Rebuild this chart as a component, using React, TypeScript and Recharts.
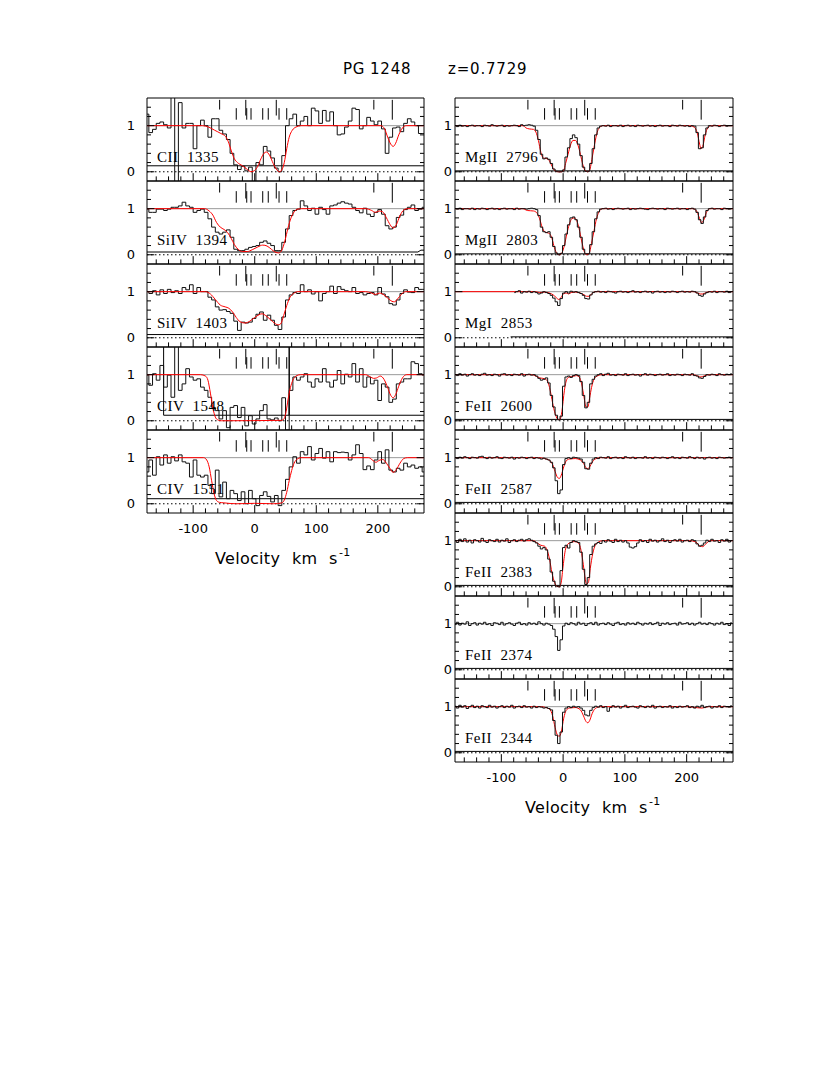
import React from 'react';
import { ComposedChart, Line, XAxis, YAxis, ReferenceLine, ReferenceArea } from 'recharts';

type Pt = [number, number];

const V_MIN = -175;
const V_MAX = 275;
const Y_MIN = -0.2;
const Y_MAX = 1.6;

// velocity grids (bin centres)
const LEFT_START = -175;
const LEFT_STEP = 6;
const RIGHT_START = -175;
const RIGHT_STEP = 4;
const MGI_START = -79;

const xTickLabels = [-100, 0, 100, 200];
const xMinorTicks = [-160, -140, -120, -80, -60, -40, -20, 20, 40, 60, 80, 120, 140, 160, 180, 220, 240, 260];
const xMajorTicks = [-100, 0, 100, 200];
const yTickLabels = [0, 1];
const yMinorTicks = [0.2, 0.4, 0.6, 0.8, 1.2, 1.4];
const yMajorTicks = [0, 1];

// component markers
const upperShortMarks = [-57, 193.5];
const upperLongMarks = [-14.5, 35];
const lowerMarks = [-30, -13, -6, 13, 22, 39.5, 52];
const fullMarks = [223.5];

// ---------- left column (6 km/s bins from -175) ----------
const cii1335Flux = [
  1.25, 0.85, 0.92, 1.05, 1.08, 1.02, 0.95, 1.75, -0.3, 1.5,
  0.95, 1.05, 1.05, 0.5, 1.0, 1.12, 1.0, 0.75, 1.15, 1.15,
  0.9, 0.82, 0.7, 0.4, 0.15, 0.05, 0.12, 0.02, 0.1, -0.25,
  0.2, 0.15, 0.55, 0.45, 0.3, 0.08, 0.0, 0.35, 1.0, 1.15,
  1.25, 1.0, 1.1, 1.2, 1.0, 1.38, 1.32, 1.05, 1.33, 1.1,
  1.3, 1.0, 0.8, 0.82, 0.97, 1.1, 1.38, 1.35, 0.93, 1.0,
  1.18, 1.1, 1.02, 1.1, 0.93, 0.4, 0.75, 0.95, 0.97, 0.87,
  1.05, 1.15, 1.08, 1.0, 0.83, 0.83,
];
const cii1335Model: Pt[] = [[-175, 1], [-85, 1], [-75, 0.97], [-65, 0.9], [-55, 0.83], [-47, 0.76], [-42, 0.62], [-38, 0.45], [-33, 0.28], [-28, 0.2], [-20, 0.13], [-12, 0.05], [-6, 0], [0, 0.03], [5, 0.12], [10, 0.28], [15, 0.4], [19, 0.43], [24, 0.36], [30, 0.18], [35, 0.06], [40, 0], [44, 0.04], [48, 0.2], [52, 0.5], [56, 0.75], [61, 0.9], [67, 0.97], [75, 1], [205, 1], [211, 0.93], [216, 0.75], [221, 0.6], [225, 0.55], [229, 0.62], [234, 0.8], [240, 0.95], [246, 1], [275, 1]];
const cii1335Err: Pt[] = [[-175, 0.13], [275, 0.13]];

const siiv1394Flux = [
  0.99, 0.92, 0.92, 0.99, 0.99, 0.96, 0.99, 1.03, 1.03, 1.06,
  1.14, 1.06, 1.03, 0.92, 0.96, 0.99, 0.92, 0.78, 0.6, 0.49,
  0.45, 0.49, 0.54, 0.38, 0.12, 0.09, 0.09, 0.12, 0.16, 0.18,
  0.2, 0.27, 0.3, 0.25, 0.2, 0.09, 0.09, 0.27, 0.56, 0.85,
  0.96, 0.99, 1.17, 1.06, 0.96, 1.01, 0.88, 1.03, 0.98, 0.88,
  1.06, 1.08, 1.12, 1.15, 1.12, 1.1, 1.03, 0.96, 0.91, 1.01,
  0.88, 0.83, 0.92, 0.98, 0.88, 0.63, 0.56, 0.6, 0.81, 0.86,
  0.98, 1.03, 1.08, 0.96, 0.99, 1.03,
];
const siiv1394Model: Pt[] = [[-175, 1], [-82, 1], [-74, 0.95], [-68, 0.86], [-62, 0.7], [-56, 0.6], [-50, 0.55], [-44, 0.48], [-38, 0.35], [-33, 0.22], [-27, 0.12], [-20, 0.07], [-12, 0.07], [-4, 0.11], [5, 0.17], [13, 0.21], [20, 0.19], [27, 0.12], [33, 0.06], [39, 0.04], [44, 0.1], [49, 0.3], [54, 0.58], [59, 0.8], [64, 0.93], [70, 0.99], [76, 1], [180, 1], [190, 0.96], [196, 0.92], [202, 0.95], [208, 0.93], [214, 0.8], [220, 0.65], [225, 0.58], [230, 0.65], [236, 0.85], [242, 0.97], [248, 1], [275, 1]];
const siiv1394Err: Pt[] = [[-175, 0.06], [265, 0.06], [270, 0.1], [275, 0.1]];

const siiv1403Flux = [
  1.0, 0.96, 1.02, 0.93, 1.04, 0.96, 1.05, 0.98, 1.02, 0.96,
  1.09, 1.04, 1.15, 0.96, 1.09, 1.0, 1.0, 0.88, 0.82, 0.67,
  0.6, 0.61, 0.57, 0.53, 0.36, 0.16, 0.34, 0.32, 0.34, 0.42,
  0.51, 0.56, 0.38, 0.49, 0.38, 0.27, 0.18, 0.45, 0.82, 0.93,
  0.98, 0.96, 1.15, 1.0, 1.04, 0.95, 1.0, 0.8, 0.96, 1.0,
  1.12, 0.96, 1.11, 1.05, 1.02, 1.0, 1.09, 0.96, 0.98, 0.93,
  0.96, 0.98, 0.93, 1.09, 0.95, 0.89, 0.74, 0.71, 0.82, 0.96,
  1.04, 0.99, 0.98, 1.09, 1.05, 1.05,
];
const siiv1403Model: Pt[] = [[-175, 1], [-80, 1], [-72, 0.95], [-64, 0.83], [-56, 0.71], [-48, 0.67], [-42, 0.64], [-36, 0.56], [-30, 0.44], [-24, 0.35], [-16, 0.32], [-8, 0.36], [0, 0.44], [7, 0.5], [12, 0.52], [18, 0.48], [25, 0.4], [32, 0.32], [38, 0.28], [42, 0.3], [47, 0.48], [52, 0.7], [57, 0.87], [63, 0.96], [70, 1], [180, 1], [190, 0.97], [196, 0.94], [203, 0.97], [210, 0.93], [217, 0.85], [223, 0.79], [227, 0.78], [232, 0.84], [238, 0.94], [245, 1], [275, 1]];
const siiv1403Err: Pt[] = [[-175, 0.07], [275, 0.07]];

const civ1548Flux = [
  0.99, 0.77, 1.02, 0.88, 1.2, 0.73, 0.99, 0.51, 1.7, 0.66,
  0.8, 1.13, 0.95, 0.88, 0.91, 0.73, 0.66, 0.51, 0.29, 0.22,
  0.04, 0.22, -0.15, 0.29, 0.33, 0.07, 0.29, -0.11, 0.11, -0.07,
  0.04, 0.22, 0.35, 0.04, 0.02, 0.06, 0.0, 0.5, -0.2, 0.66,
  0.95, 0.88, 0.95, 1.02, 0.84, 0.73, 0.91, 0.84, 1.13, 0.84,
  0.73, 0.88, 1.09, 0.8, 1.01, 0.95, 1.24, 0.84, 1.13, 0.73,
  0.95, 0.8, 0.88, 0.44, 0.8, 0.73, 0.4, 0.47, 0.8, 0.84,
  0.91, 0.91, 1.28, 1.24, 1.02, 0.99,
];
const civ1548Model: Pt[] = [[-175, 1], [-88, 1], [-80, 0.97], [-76, 0.88], [-72, 0.6], [-68, 0.28], [-64, 0.08], [-60, 0.02], [-54, 0], [44, 0.01], [48, 0.05], [51, 0.2], [54, 0.45], [58, 0.72], [62, 0.88], [67, 0.97], [74, 1], [180, 1], [188, 0.95], [193, 0.92], [198, 0.93], [204, 0.97], [210, 0.9], [216, 0.72], [221, 0.55], [225, 0.5], [229, 0.57], [234, 0.75], [240, 0.93], [247, 1], [275, 1]];
const civ1548Err: Pt[] = [[-175, 1.8], [-148, 1.8], [-148, 0.12], [56, 0.12], [56, 1.8], [56, 0.12], [275, 0.12]];

const civ1551Flux = [
  0.69, 0.95, 0.62, 1.02, 0.84, 1.06, 0.88, 1.02, 0.93, 1.06,
  0.91, 0.88, 0.58, 0.95, 0.62, 0.58, 0.62, 0.4, 0.22, 0.73,
  0.15, 0.47, 0.11, 0.29, 0.22, 0.07, 0.26, 0.0, 0.29, 0.11,
  -0.04, 0.18, 0.26, 0.16, 0.04, 0.18, -0.04, 0.29, 0.53, 0.8,
  1.02, 0.88, 1.13, 1.06, 1.24, 0.95, 1.09, 1.2, 0.99, 1.13,
  0.91, 1.13, 1.11, 1.12, 1.11, 0.95, 1.06, 1.28, 1.09, 0.74,
  0.82, 0.74, 0.95, 1.13, 0.88, 1.17, 0.73, 0.69, 0.77, 0.73,
  0.88, 0.8, 0.84, 0.77, 0.8, 0.69,
];
const civ1551Model: Pt[] = [[-175, 1], [-83, 1], [-78, 0.95], [-74, 0.8], [-70, 0.5], [-66, 0.22], [-62, 0.07], [-57, 0.03], [-50, 0.02], [-30, 0], [0, 0.01], [30, 0], [44, 0.02], [48, 0.08], [52, 0.25], [56, 0.5], [60, 0.72], [64, 0.88], [69, 0.97], [75, 1], [185, 1], [192, 0.94], [197, 0.9], [202, 0.94], [208, 0.96], [214, 0.88], [220, 0.76], [225, 0.68], [230, 0.74], [236, 0.88], [242, 0.98], [248, 1], [275, 1]];
const civ1551Err: Pt[] = [[-175, 0.11], [275, 0.11]];

// ---------- right column (4 km/s bins from -175) ----------
const mgii2796Flux = [
  1.00, 0.98, 1.01, 0.99, 1.00, 0.98, 1.00, 1.01, 0.99, 1.00, 1.00, 0.98, 1.01, 1.00, 0.99, 1.02, 1.00, 0.99, 1.00, 1.01, 0.98, 1.00, 0.99, 1.00, 1.01, 1.00, 0.98, 1.02, 1.00, 1.01, 1.02, 1.01, 0.99,
  0.90, 0.70, 0.38, 0.28, 0.30, 0.27, 0.18, 0.06, 0.01, 0.00, 0.00, 0.04, 0.32, 0.52, 0.72, 0.80, 0.74, 0.60, 0.35, 0.10, 0.01, 0.01, 0.18, 0.50, 0.80, 0.95, 0.99,
  1.00, 0.99, 1.01, 0.98, 1.00, 1.00, 0.99, 1.01, 0.98, 1.00, 1.01, 0.99, 1.00, 0.98, 1.01, 1.00, 0.99, 1.00, 1.01, 0.99, 1.00, 0.98, 1.00, 1.01, 0.99, 1.00, 1.00, 0.98, 1.01, 1.00, 0.99, 1.01, 1.00, 0.99, 1.00, 0.98, 1.00, 0.99,
  0.85, 0.50, 0.52, 0.80, 0.95,
  1.00, 0.99, 1.01, 1.00, 0.98, 1.00, 1.01, 0.99, 1.00, 1.00,
];
const mgii2796Model: Pt[] = [[-175, 1], [-65, 1], [-60, 0.95], [-55, 0.93], [-48, 0.92], [-44, 0.86], [-40, 0.68], [-36, 0.42], [-32, 0.3], [-28, 0.29], [-24, 0.27], [-20, 0.18], [-16, 0.07], [-12, 0.01], [-8, 0], [-2, 0], [1, 0.03], [4, 0.18], [8, 0.38], [12, 0.58], [16, 0.68], [20, 0.68], [24, 0.58], [28, 0.38], [32, 0.15], [36, 0.02], [40, 0], [43, 0.04], [47, 0.3], [51, 0.6], [55, 0.85], [59, 0.96], [64, 1], [205, 1], [212, 0.97], [217, 0.85], [221, 0.6], [223, 0.5], [226, 0.55], [230, 0.8], [234, 0.95], [240, 1], [275, 1]];
const mgii2796Err: Pt[] = [[-175, 0.02], [275, 0.02]];

const mgii2803Flux = [
  1.00, 0.99, 1.01, 0.98, 1.00, 1.00, 0.99, 1.01, 0.98, 1.00, 0.99, 1.01, 1.00, 0.98, 1.00, 1.01, 0.99, 1.00, 0.98, 1.00, 1.01, 0.99, 1.00, 1.00, 0.98, 1.01, 0.99, 1.00, 1.00, 0.99, 1.00, 1.01, 1.00, 0.98,
  0.85, 0.60, 0.50, 0.48, 0.50, 0.38, 0.18, 0.04, 0.00, 0.03, 0.20, 0.45, 0.65, 0.80, 0.82, 0.76, 0.60, 0.38, 0.12, 0.02, 0.02, 0.22, 0.50, 0.78, 0.93, 0.99,
  1.00, 1.01, 0.99, 1.00, 0.98, 1.00, 1.01, 1.00, 0.99, 1.00, 1.01, 0.98, 1.00, 0.99, 1.00, 1.01, 1.00, 0.99, 0.98, 1.00, 1.01, 1.00, 0.99, 1.00, 1.00, 0.98, 1.01, 1.00, 0.99, 1.00, 1.01, 0.99, 1.00, 1.00, 0.98, 1.00, 1.01, 0.99,
  0.92, 0.76, 0.68, 0.82, 0.96,
  1.00, 1.01, 0.99, 1.00, 1.00, 0.98, 1.01, 1.00, 0.99, 1.00,
];
const mgii2803Model: Pt[] = [[-175, 1], [-65, 1], [-58, 0.96], [-48, 0.95], [-42, 0.9], [-38, 0.78], [-34, 0.6], [-30, 0.5], [-26, 0.48], [-22, 0.46], [-18, 0.35], [-14, 0.15], [-10, 0.03], [-6, 0], [-2, 0.04], [2, 0.2], [6, 0.45], [10, 0.66], [14, 0.78], [18, 0.8], [22, 0.74], [26, 0.56], [30, 0.3], [34, 0.08], [38, 0], [42, 0.03], [46, 0.25], [50, 0.52], [54, 0.78], [58, 0.93], [63, 1], [210, 1], [216, 0.95], [220, 0.82], [224, 0.7], [228, 0.76], [232, 0.92], [238, 1], [275, 1]];
const mgii2803Err: Pt[] = [[-175, 0.02], [275, 0.02]];

// MgI data starts at -79 km/s
const mgi2853Flux = [
  0.98, 1.00, 1.02, 0.97, 1.00, 0.99, 1.01, 0.98, 1.00,
  0.98, 0.95, 0.97, 1.00, 0.98, 0.96, 0.92, 0.86, 0.78, 0.70, 0.85,
  0.97, 1.00, 0.97, 1.01, 0.99, 1.00, 0.98, 0.96, 0.92, 0.85, 0.84, 0.93, 0.98, 1.00, 1.01,
  0.99, 1.00, 0.98, 1.01, 1.00, 0.99, 0.97, 1.00, 1.01, 0.99, 1.00, 0.98, 1.00, 1.02, 0.99, 1.00, 0.98, 1.00, 1.01, 0.99, 1.00, 0.97, 1.00, 1.01, 0.99, 1.00, 0.98, 1.00, 0.99, 1.01, 1.00, 0.98, 1.00, 1.01, 0.99, 1.00, 0.99, 1.01, 1.00,
  0.97, 0.92, 0.90, 0.95, 0.98,
  1.00, 0.99, 1.01, 0.98, 1.00, 1.00, 0.99, 1.01, 0.98, 1.00,
];
const mgi2853Model: Pt[] = [[-175, 1], [-45, 1], [-38, 0.98], [-30, 0.99], [-22, 0.97], [-16, 0.93], [-11, 0.87], [-7, 0.83], [-3, 0.88], [1, 0.96], [5, 0.97], [9, 0.95], [13, 0.98], [20, 0.99], [28, 0.97], [34, 0.93], [38, 0.9], [42, 0.9], [46, 0.95], [52, 1], [212, 1], [218, 0.97], [222, 0.95], [226, 0.95], [231, 0.98], [238, 1], [275, 1]];
const mgi2853Err: Pt[] = [[-85, 0.02], [275, 0.02]];

const feii2600Flux = [
  1.00, 0.98, 1.02, 0.99, 1.01, 0.97, 1.00, 1.02, 0.99, 1.00, 0.98, 1.01, 1.03, 0.99, 1.00, 0.98, 1.01, 1.00, 0.97, 1.01, 1.02, 0.99, 1.00, 0.98, 1.01, 1.00, 0.99, 1.02, 0.97, 1.00, 1.01, 0.99, 1.00,
  0.97, 0.92, 0.88, 0.90, 0.93, 0.82, 0.55, 0.30, 0.12, 0.02, 0.10, 0.75, 0.95, 0.97, 0.94, 0.98, 1.00, 0.98, 0.85, 0.55, 0.28, 0.40, 0.80, 0.90, 0.97,
  1.00, 1.02, 0.98, 1.01, 1.03, 0.99, 1.00, 0.98, 1.01, 1.00, 0.99, 1.02, 0.98, 1.00, 1.01, 0.99, 1.00, 0.97, 1.00, 1.02, 0.99, 1.01, 1.00, 0.98, 1.00, 1.01, 0.99, 1.00, 1.02, 0.98, 1.00, 0.99, 1.01, 1.00, 0.98, 1.01, 1.00, 0.99, 1.02, 0.98,
  0.97, 0.93, 0.92, 0.96,
  1.00, 0.99, 1.01, 1.00, 0.98, 1.02, 1.00, 0.99, 1.01, 1.00, 1.02,
];
const feii2600Model: Pt[] = [[-175, 1], [-50, 1], [-44, 0.97], [-38, 0.93], [-33, 0.92], [-28, 0.9], [-24, 0.82], [-20, 0.6], [-16, 0.32], [-12, 0.12], [-8, 0.03], [-5, 0.03], [-2, 0.2], [2, 0.65], [6, 0.9], [10, 0.95], [14, 0.96], [18, 0.97], [22, 0.98], [26, 0.95], [30, 0.8], [34, 0.5], [37, 0.3], [40, 0.3], [43, 0.5], [46, 0.72], [50, 0.9], [55, 0.97], [62, 1], [210, 1], [218, 0.97], [223, 0.95], [228, 0.97], [235, 1], [275, 1]];
const feii2600Err: Pt[] = [[-175, 0.03], [275, 0.03]];

const feii2587Flux = [
  1.00, 0.98, 1.01, 0.99, 1.02, 1.00, 0.98, 1.01, 1.00, 0.99,
  1.02, 1.03, 1.00, 0.98, 1.01, 0.99, 1.00, 1.02, 0.99, 0.98,
  1.01, 1.00, 0.99, 1.01, 0.97, 1.00, 0.99, 1.01, 1.00, 0.98,
  1.00, 1.01, 0.98, 1.00, 0.99, 0.97, 0.99,
  0.97, 0.95, 0.90, 0.78, 0.50, 0.22, 0.30, 0.85, 0.98, 1.00, 0.98, 1.01, 1.00, 0.99, 0.97, 0.90, 0.76, 0.75, 0.88, 0.97,
  1.00, 0.98, 1.01, 1.00, 0.99, 1.02, 0.98, 1.00, 1.01, 0.99,
  1.00, 0.98, 1.02, 1.00, 0.99, 1.01, 0.98, 1.00, 1.00, 0.99,
  1.02, 0.99, 1.00, 0.98, 1.01, 1.00, 0.99, 1.01, 1.00, 0.98,
  1.00, 1.02, 0.99, 1.00, 0.98, 1.01, 1.00, 0.99, 1.02, 1.00,
  0.98, 1.01, 0.99, 1.00, 0.97, 1.00, 1.01, 0.99, 1.00, 0.98,
  1.01, 1.00, 0.99, 1.00, 1.01, 0.99,
];
const feii2587Model: Pt[] = [[-175, 1], [-40, 1], [-30, 0.98], [-22, 0.94], [-17, 0.85], [-13, 0.7], [-9, 0.57], [-6, 0.55], [-3, 0.62], [1, 0.8], [5, 0.93], [10, 0.97], [20, 0.98], [28, 0.95], [33, 0.88], [37, 0.78], [40, 0.76], [43, 0.8], [47, 0.9], [52, 0.97], [60, 1], [275, 1]];
const feii2587Err: Pt[] = [[-175, 0.03], [275, 0.03]];

const feii2383Flux = [
  1.00, 0.96, 1.03, 0.98, 1.04, 0.97, 1.01, 0.95, 1.02, 1.00, 0.97, 1.05, 0.99, 0.96, 1.02, 1.00, 0.98, 1.03, 0.97, 1.01, 0.99, 1.04, 0.96, 1.00, 1.02, 0.98, 1.01, 1.03, 0.99, 1.02, 1.04, 1.01, 0.98,
  0.95, 0.88, 0.82, 0.85, 0.80, 0.60, 0.32, 0.12, 0.02, 0.00, 0.35, 0.85, 0.90, 0.84, 0.96, 1.00, 0.98, 0.96, 0.75, 0.38, 0.05, 0.20, 0.70, 0.88, 0.93, 0.96, 0.94,
  1.00, 0.97, 1.02, 0.99, 0.96, 1.03, 0.98, 1.01, 0.97, 1.00,
  0.95, 0.86, 0.84, 0.87, 0.95,
  1.02, 0.98, 1.00, 0.96, 1.03, 0.99, 1.01, 0.97, 1.00, 1.04, 0.98, 1.01, 0.96, 1.00, 1.02, 0.99, 1.03, 0.97, 1.00, 1.01, 0.98, 1.02, 1.00,
  0.93, 0.88, 0.90, 0.95,
  1.01, 0.98, 1.03, 0.99, 1.00, 0.96, 1.02, 0.99, 1.03, 0.97, 1.00,
];
const feii2383Model: Pt[] = [[-175, 1], [-48, 1], [-42, 0.95], [-36, 0.9], [-30, 0.88], [-26, 0.8], [-22, 0.6], [-18, 0.3], [-14, 0.1], [-10, 0.01], [-6, 0], [-3, 0.1], [0, 0.45], [4, 0.82], [8, 0.93], [12, 0.96], [18, 0.98], [24, 0.96], [28, 0.85], [32, 0.55], [35, 0.25], [38, 0.06], [41, 0.1], [44, 0.4], [48, 0.72], [52, 0.9], [57, 0.97], [65, 1], [205, 1], [215, 0.97], [222, 0.88], [226, 0.87], [231, 0.93], [238, 1], [275, 1]];
const feii2383Err: Pt[] = [[-175, 0.03], [275, 0.03]];

const feii2374Flux = [
  0.98, 1.03, 0.97, 1.01, 0.99, 1.04, 0.96, 1.00, 1.02, 0.97,
  1.01, 0.99, 1.03, 0.98, 1.00, 0.96, 1.02, 1.01, 0.98, 1.03,
  0.97, 1.00, 1.02, 0.99, 0.96, 1.01, 1.03, 0.98, 1.00, 0.97,
  1.02, 0.99, 1.01, 0.98, 1.04, 1.00, 0.97, 1.01, 0.99,
  0.96, 0.88, 0.72, 0.42, 0.65, 0.95,
  1.01, 0.98, 1.02, 1.00, 0.97, 1.03, 0.99, 1.01, 0.96, 1.00,
  1.02, 0.98, 1.03, 0.97, 1.00, 1.01, 0.98, 1.02, 0.99, 0.96,
  1.01, 1.03, 0.98, 1.00, 0.97, 1.02, 0.99, 1.01, 0.98, 1.03,
  1.00, 0.97, 1.01, 0.99, 1.02, 0.98, 1.00, 1.03, 0.96, 1.01,
  0.99, 1.02, 0.98, 1.00, 1.01, 0.97, 1.03, 0.99, 1.00, 1.02,
  0.98, 1.01, 0.97, 1.00, 1.03, 0.99, 1.01, 0.98, 1.02, 1.00,
  0.97, 1.01, 0.99, 1.03, 0.98, 1.00, 0.96, 1.02,
];
const feii2374Err: Pt[] = [[-175, 0.03], [275, 0.03]];

const feii2344Flux = [
  1.01, 0.97, 1.03, 0.99, 1.02, 0.96, 1.00, 1.03, 0.98, 1.01,
  0.97, 1.02, 1.00, 0.98, 1.03, 0.99, 1.01, 0.97, 1.00, 1.02,
  0.98, 1.01, 0.99, 1.03, 0.97, 1.00, 1.01, 0.98, 1.02, 0.99,
  1.00, 0.97, 1.01, 0.98, 1.00, 0.99, 0.97, 0.98, 0.96,
  0.93, 0.70, 0.38, 0.20, 0.45, 0.88, 0.97, 1.00, 0.98, 1.01, 0.99, 1.00, 0.97, 0.92, 0.82, 0.80, 0.92, 0.98,
  1.01, 0.99, 1.02, 0.98, 1.00,
  0.90,
  0.98, 1.02, 0.99, 1.01, 0.97, 1.00, 1.03, 0.98, 1.00, 1.01,
  0.99, 0.97, 1.02, 1.00, 0.98, 1.01, 0.99, 1.03, 0.97, 1.00,
  1.01, 0.98, 1.00, 0.99, 1.02, 0.97, 1.00, 0.98, 1.01, 0.99,
  1.00, 1.02, 0.98, 1.00, 0.97, 1.01, 0.99, 1.03, 0.98, 1.00,
  1.01, 0.97, 1.00, 0.99, 1.02, 0.98, 1.01, 1.00, 0.99, 1.02,
];
const feii2344Model: Pt[] = [[-175, 1], [-35, 1], [-28, 0.98], [-22, 0.95], [-17, 0.8], [-13, 0.55], [-9, 0.38], [-6, 0.36], [-3, 0.45], [1, 0.75], [5, 0.92], [10, 0.97], [20, 0.98], [28, 0.93], [33, 0.8], [37, 0.68], [40, 0.65], [43, 0.7], [47, 0.85], [52, 0.96], [60, 1], [200, 1], [215, 0.98], [225, 0.97], [235, 1], [275, 1]];
const feii2344Err: Pt[] = [[-175, 0.03], [275, 0.03]];

// ---------- layout ----------
const PANEL_TOP = 98;
const PANEL_H = 83;
const LEFT_PLOT_X = 147;
const LEFT_PLOT_W = 277;
const RIGHT_PLOT_X = 455;
const RIGHT_PLOT_W = 278;
const YAXIS_W = 30;
const PAD = 2;
const XAXIS_H = 24;

interface PanelDef {
  label: string;
  flux: number[];
  start: number;
  step: number;
  model?: Pt[];
  err: Pt[];
}

const leftPanels: PanelDef[] = [
  { label: 'CII  1335', flux: cii1335Flux, start: LEFT_START, step: LEFT_STEP, model: cii1335Model, err: cii1335Err },
  { label: 'SiIV  1394', flux: siiv1394Flux, start: LEFT_START, step: LEFT_STEP, model: siiv1394Model, err: siiv1394Err },
  { label: 'SiIV  1403', flux: siiv1403Flux, start: LEFT_START, step: LEFT_STEP, model: siiv1403Model, err: siiv1403Err },
  { label: 'CIV  1548', flux: civ1548Flux, start: LEFT_START, step: LEFT_STEP, model: civ1548Model, err: civ1548Err },
  { label: 'CIV  1551', flux: civ1551Flux, start: LEFT_START, step: LEFT_STEP, model: civ1551Model, err: civ1551Err },
];

const rightPanels: PanelDef[] = [
  { label: 'MgII  2796', flux: mgii2796Flux, start: RIGHT_START, step: RIGHT_STEP, model: mgii2796Model, err: mgii2796Err },
  { label: 'MgII  2803', flux: mgii2803Flux, start: RIGHT_START, step: RIGHT_STEP, model: mgii2803Model, err: mgii2803Err },
  { label: 'MgI  2853', flux: mgi2853Flux, start: MGI_START, step: RIGHT_STEP, model: mgi2853Model, err: mgi2853Err },
  { label: 'FeII  2600', flux: feii2600Flux, start: RIGHT_START, step: RIGHT_STEP, model: feii2600Model, err: feii2600Err },
  { label: 'FeII  2587', flux: feii2587Flux, start: RIGHT_START, step: RIGHT_STEP, model: feii2587Model, err: feii2587Err },
  { label: 'FeII  2383', flux: feii2383Flux, start: RIGHT_START, step: RIGHT_STEP, model: feii2383Model, err: feii2383Err },
  { label: 'FeII  2374', flux: feii2374Flux, start: RIGHT_START, step: RIGHT_STEP, err: feii2374Err },
  { label: 'FeII  2344', flux: feii2344Flux, start: RIGHT_START, step: RIGHT_STEP, model: feii2344Model, err: feii2344Err },
];

const toSeries = (start: number, step: number, arr: number[]) => arr.map((y, i) => ({ v: start + i * step, y }));
const toPts = (pts: Pt[]) => pts.map(([v, y]) => ({ v, y }));

const AXIS_FONT = { fontSize: 13, fill: '#000', fontFamily: '"DejaVu Sans", sans-serif' };

const seg = (x1: number, y1: number, x2: number, y2: number, key: string, color = '#000') => (
  <ReferenceLine key={key} segment={[{ x: x1, y: y1 }, { x: x2, y: y2 }]} stroke={color} strokeWidth={1} ifOverflow="visible" />
);

function Panel({ def, plotX, plotW, top, isBottom, labelMargin, redOnTop }: {
  def: PanelDef; plotX: number; plotW: number; top: number; isBottom: boolean; labelMargin: number; redOnTop: boolean;
}) {
  const height = PAD + PANEL_H + (isBottom ? XAXIS_H : 0) + PAD;
  const data = toSeries(def.start, def.step, def.flux);
  const model = def.model ? toPts(def.model) : null;
  const err = toPts(def.err);
  const xMinLen = 0.1;
  const xMajLen = 0.17;
  const yMinLen = 6.5;
  const yMajLen = 12;

  const modelLine = model ? (
    <Line data={model} dataKey="y" type="monotone" stroke="#ff0000" strokeWidth={1} dot={false} activeDot={false} isAnimationActive={false} />
  ) : null;

  return (
    <div style={{ position: 'absolute', left: plotX - YAXIS_W, top: top - PAD }}>
      <ComposedChart width={YAXIS_W + plotW + PAD} height={height} margin={{ top: PAD, right: PAD, bottom: PAD, left: 0 }}>
        <XAxis
          type="number"
          dataKey="v"
          domain={[V_MIN, V_MAX]}
          allowDataOverflow
          hide={!isBottom}
          ticks={xTickLabels}
          interval={0}
          axisLine={false}
          tickLine={false}
          tickSize={0}
          tickMargin={11}
          height={XAXIS_H}
          tick={AXIS_FONT}
        />
        <YAxis
          type="number"
          domain={[Y_MIN, Y_MAX]}
          allowDataOverflow
          ticks={yTickLabels}
          interval={0}
          axisLine={false}
          tickLine={false}
          tickSize={0}
          tickMargin={labelMargin}
          width={YAXIS_W}
          tick={AXIS_FONT}
        />
        <ReferenceLine y={1} stroke="#9a9a9a" strokeWidth={1} />
        <ReferenceLine y={0} stroke="#000" strokeWidth={1} strokeDasharray="1.5 2.5" />
        <Line data={err} dataKey="y" type="linear" stroke="#000" strokeWidth={1} dot={false} activeDot={false} isAnimationActive={false} />
        {!redOnTop && modelLine}
        <Line data={data} dataKey="y" type="step" stroke="#111" strokeWidth={1} dot={false} activeDot={false} isAnimationActive={false} />
        {redOnTop && modelLine}
        {xMinorTicks.map((v) => seg(v, Y_MIN, v, Y_MIN + xMinLen, `xm${v}`))}
        {xMajorTicks.map((v) => seg(v, Y_MIN, v, Y_MIN + xMajLen, `xM${v}`))}
        {yMinorTicks.map((y) => seg(V_MIN, y, V_MIN + yMinLen, y, `yl${y}`))}
        {yMinorTicks.map((y) => seg(V_MAX - yMinLen, y, V_MAX, y, `yr${y}`))}
        {yMajorTicks.map((y) => seg(V_MIN, y, V_MIN + yMajLen, y, `yL${y}`))}
        {yMajorTicks.map((y) => seg(V_MAX - yMajLen, y, V_MAX, y, `yR${y}`))}
        {upperShortMarks.map((v) => seg(v, 1.56, v, 1.35, `us${v}`))}
        {upperLongMarks.map((v) => seg(v, 1.56, v, 1.22, `ul${v}`))}
        {lowerMarks.map((v) => seg(v, 1.38, v, 1.13, `lo${v}`))}
        {fullMarks.map((v) => seg(v, 1.56, v, 1.13, `fu${v}`))}
        <ReferenceArea x1={V_MIN} x2={V_MAX} y1={Y_MIN} y2={Y_MAX} fill="none" fillOpacity={0} stroke="#000" strokeWidth={1} ifOverflow="visible" />
      </ComposedChart>
    </div>
  );
}

const LABEL_STYLE: React.CSSProperties = { whiteSpace: 'pre' };

export default function App() {
  return (
    <div style={{ position: 'absolute', left: 0, top: 0, width: 830, height: 1075, background: '#fff' }}>
      {leftPanels.map((p, i) => (
        <Panel key={p.label} def={p} plotX={LEFT_PLOT_X} plotW={LEFT_PLOT_W} top={PANEL_TOP + i * PANEL_H}
          isBottom={i === leftPanels.length - 1} labelMargin={12} redOnTop={true} />
      ))}
      {rightPanels.map((p, i) => (
        <Panel key={p.label} def={p} plotX={RIGHT_PLOT_X} plotW={RIGHT_PLOT_W} top={PANEL_TOP + i * PANEL_H}
          isBottom={i === rightPanels.length - 1} labelMargin={3} redOnTop={false} />
      ))}
      <svg width={830} height={1075} style={{ position: 'absolute', left: 0, top: 0, pointerEvents: 'none' }}>
        <text y={74} fontSize={15} fontFamily='"DejaVu Sans", sans-serif' fill="#000" letterSpacing={0.8}>
          <tspan x={343}>PG</tspan>
          <tspan x={370}>1248</tspan>
          <tspan x={448}>z=0.7729</tspan>
        </text>
        {leftPanels.map((p, i) => (
          <text key={p.label} x={157} y={PANEL_TOP + i * PANEL_H + 63.5} fontSize={15} letterSpacing={0.5}
            fontFamily='"Liberation Serif", "Times New Roman", serif' fill="#000" style={LABEL_STYLE}>{p.label}</text>
        ))}
        {rightPanels.map((p, i) => (
          <text key={p.label} x={465} y={PANEL_TOP + i * PANEL_H + 63.5} fontSize={15} letterSpacing={0.5}
            fontFamily='"Liberation Serif", "Times New Roman", serif' fill="#000" style={LABEL_STYLE}>{p.label}</text>
        ))}
        <text y={564} fontSize={16} fontFamily='"DejaVu Sans", sans-serif' fill="#000" letterSpacing={0.3}>
          <tspan x={215}>Velocity</tspan>
          <tspan x={292}>km</tspan>
          <tspan x={329}>s</tspan>
          <tspan x={339} y={556} fontSize={11}>-1</tspan>
        </text>
        <text y={813} fontSize={16} fontFamily='"DejaVu Sans", sans-serif' fill="#000" letterSpacing={0.3}>
          <tspan x={525}>Velocity</tspan>
          <tspan x={602}>km</tspan>
          <tspan x={639}>s</tspan>
          <tspan x={649} y={805} fontSize={11}>-1</tspan>
        </text>
      </svg>
    </div>
  );
}
